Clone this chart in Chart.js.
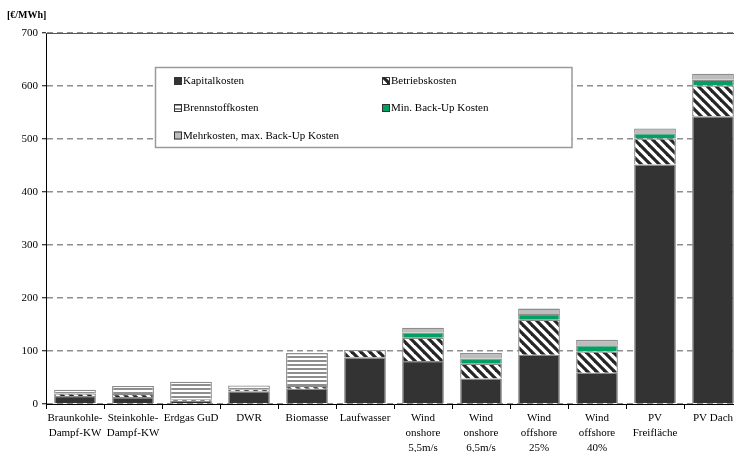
<!DOCTYPE html>
<html><head><meta charset="utf-8">
<script src="https://cdn.jsdelivr.net/npm/chart.js@4"></script>
<style>
html,body{margin:0;padding:0;background:#fff;overflow:hidden;}
#wrap{position:relative;width:744px;height:452px;}
</style></head>
<body><div id="wrap"><canvas id="c"></canvas></div>
<script>
const categories = [
  ['Braunkohle-','Dampf-KW'], ['Steinkohle-','Dampf-KW'], 'Erdgas GuD', 'DWR', 'Biomasse', 'Laufwasser',
  ['Wind','onshore','5,5m/s'], ['Wind','onshore','6,5m/s'], ['Wind','offshore','25%'], ['Wind','offshore','40%'],
  ['PV','Freifläche'], 'PV Dach'
];
const seriesNames = ['Kapitalkosten','Betriebskosten','Brennstoffkosten','Min. Back-Up Kosten','Mehrkosten, max. Back-Up Kosten'];
const kapital    = [15, 13, 6, 24, 29, 88, 81, 48, 93, 59, 452, 543];
const betrieb    = [5, 6, 3, 4, 5, 14, 44, 28, 66, 40, 49, 58];
const brennstoff = [7, 15, 33, 7, 62, null, null, null, null, null, null, null];
const minBackup  = [null, null, null, null, null, null, 10, 10, 11, 12, 10, 11];
const mehrkosten = [null, null, null, null, null, null, 9, 10, 10, 10, 9, 11];
const yTicks = [0, 100, 200, 300, 400, 500, 600, 700];
const unitLabel = '[€/MWh]';

function diagPattern(){
  const s = 9, c = document.createElement('canvas'); c.width = s; c.height = s;
  const g = c.getContext('2d');
  g.fillStyle = '#fff'; g.fillRect(0,0,s,s);
  g.strokeStyle = '#262626'; g.lineWidth = 3.2;
  for (const k of [-2*s, -s, 0, s, 2*s]) { g.beginPath(); g.moveTo(k - 3, -3); g.lineTo(k + s + 3, s + 3); g.stroke(); }
  return g.createPattern(c, 'repeat');
}
function hPattern(){
  const c = document.createElement('canvas'); c.width = 4; c.height = 4;
  const g = c.getContext('2d');
  g.fillStyle = '#fff'; g.fillRect(0,0,4,4);
  g.fillStyle = '#8e8e8e'; g.fillRect(0,0,4,2);
  return g.createPattern(c, 'repeat');
}
const fills = ['#333333', diagPattern(), hPattern(), '#00a062', '#bdbdbd'];
const dataArrays = [kapital, betrieb, brennstoff, minBackup, mehrkosten];

const FONT = '"Liberation Serif","Times New Roman",serif';

const decor = {
  id: 'decor',
  afterDraw(chart){
    const ctx = chart.ctx, a = chart.chartArea;
    ctx.save();
    ctx.strokeStyle = '#555'; ctx.lineWidth = 1;
    ctx.beginPath(); ctx.moveTo(a.left, a.top + 0.5); ctx.lineTo(a.right, a.top + 0.5); ctx.stroke();
    ctx.fillStyle = '#000'; ctx.font = 'bold 10px ' + FONT; ctx.textBaseline = 'middle'; ctx.textAlign = 'left';
    ctx.fillText(unitLabel, 7, 15);
    ctx.fillStyle = '#fff'; ctx.fillRect(155.5, 67.5, 416.5, 80);
    ctx.strokeStyle = '#9a9a9a'; ctx.lineWidth = 1.5; ctx.strokeRect(155.5, 67.5, 416.5, 80);
    const pos = [[174,81],[382,81],[174,108],[382,108],[174,135.5]];
    ctx.font = '11px ' + FONT; ctx.textBaseline = 'middle';
    for (let i = 0; i < 5; i++){
      const [x,y] = pos[i];
      ctx.fillStyle = fills[i]; ctx.fillRect(x, y - 4, 8, 8);
      ctx.strokeStyle = '#333'; ctx.lineWidth = 1; ctx.strokeRect(x + 0.5, y - 3.5, 7, 7);
      ctx.fillStyle = '#000'; ctx.fillText(seriesNames[i], x + 9, y + 0.5);
    }
    ctx.restore();
  }
};

new Chart(document.getElementById('c'), {
  type: 'bar',
  data: {
    labels: categories,
    datasets: dataArrays.map((d, i) => ({
      label: seriesNames[i], data: d, backgroundColor: fills[i],
      borderColor: '#8c8c8c', borderWidth: 1.3,
      barPercentage: 0.72, categoryPercentage: 1
    }))
  },
  options: {
    responsive: true, maintainAspectRatio: false, animation: false,
    layout: { padding: { top: 33, right: 2, left: 0, bottom: 0 } },
    plugins: { legend: { display: false }, tooltip: { enabled: false } },
    scales: {
      x: {
        stacked: true,
        grid: { display: true, drawOnChartArea: false, offset: true, tickLength: 5, color: '#000', tickColor: '#000' },
        border: { display: true, color: '#000', width: 1 },
        ticks: { color: '#000', font: { family: FONT, size: 11, lineHeight: 1.35 }, padding: 2, maxRotation: 0, autoSkip: false },
        afterFit(s){ s.height = 48; }
      },
      y: {
        stacked: true, min: 0, max: 700,
        afterBuildTicks(s){ s.ticks = yTicks.map(v => ({ value: v })); },
        grid: { color: '#8f8f8f', lineWidth: 1.5, tickColor: '#000', tickWidth: 1, tickLength: 4 },
        border: { display: true, color: '#000', width: 1, dash: [6, 4] },
        ticks: { color: '#000', font: { family: FONT, size: 11 }, padding: 4 },
        afterFit(s){ s.width = 46; }
      }
    }
  },
  plugins: [decor]
});
</script></body></html>
